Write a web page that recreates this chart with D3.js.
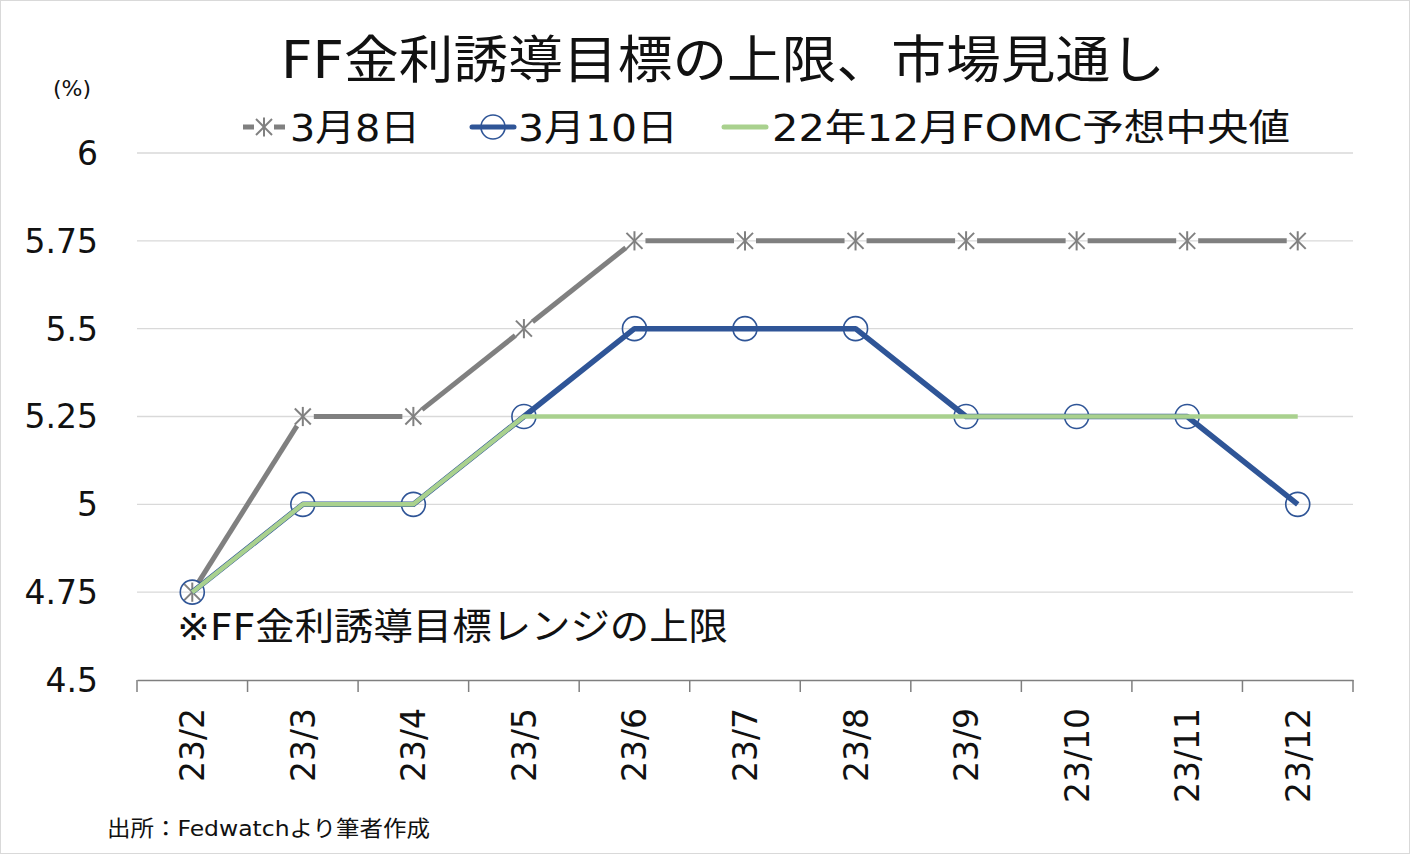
<!DOCTYPE html>
<html><head><meta charset="utf-8">
<script src="https://cdn.jsdelivr.net/npm/d3@7"></script>
<style>body{margin:0;background:#fff}svg{display:block;font-family:"DejaVu Sans","Noto Sans CJK JP",sans-serif}</style>
</head><body><svg id="c" width="1410" height="854"></svg>
<script>
const categories=["23/2","23/3","23/4","23/5","23/6","23/7","23/8","23/9","23/10","23/11","23/12"];
const mar8=[4.75,5.25,5.25,5.5,5.75,5.75,5.75,5.75,5.75,5.75,5.75];
const mar10=[4.75,5,5,5.25,5.5,5.5,5.5,5.25,5.25,5.25,5];
const fomc=[4.75,5,5,5.25,5.25,5.25,5.25,5.25,5.25,5.25,5.25];
const yTicks=[4.5,4.75,5,5.25,5.5,5.75,6];
const tickLabels=["4.5","4.75","5","5.25","5.5","5.75","6"];

const svg=d3.select("#c");
svg.append("rect").attr("x",0.5).attr("y",0.5).attr("width",1409).attr("height",853).attr("fill","#fff").attr("stroke","#d9d9d9");
const x=d3.scaleBand().domain(categories).range([137,1353]);
const y=d3.scaleLinear().domain([4.5,6]).range([680,153]);
const cx=c=>x(c)+x.bandwidth()/2;

// gridlines
svg.append("g").selectAll("line").data(yTicks.slice(1)).join("line")
 .attr("x1",137).attr("x2",1353).attr("y1",d=>y(d)).attr("y2",d=>y(d)).attr("stroke","#d9d9d9").attr("stroke-width",1.3);
// y labels
svg.append("g").selectAll("text").data(yTicks).join("text")
 .attr("x",98).attr("y",d=>y(d)).attr("dy","0.36em").attr("text-anchor","end")
 .attr("font-size",33).attr("fill","#111").text((d,i)=>tickLabels[i]);
// x axis
const xa=svg.append("g").attr("transform","translate(0,680)")
 .call(d3.axisBottom(x).tickSize(0).tickFormat(""));
xa.select(".domain").attr("stroke","#7f7f7f").attr("stroke-width",1.5);
svg.append("g").selectAll("line").data(categories.concat(["end"])).join("line")
 .attr("x1",(d,i)=>137+i*x.step()).attr("x2",(d,i)=>137+i*x.step()).attr("y1",680).attr("y2",692)
 .attr("stroke","#7f7f7f").attr("stroke-width",1.5);
svg.append("g").selectAll("text").data(categories).join("text")
 .attr("transform",d=>`translate(${cx(d)+12},708) rotate(-90)`).attr("text-anchor","end")
 .attr("font-size",33).attr("fill","#111").text(d=>d);

// gray series with gaps around markers
const pts8=categories.map((c,i)=>[cx(c),y(mar8[i])]);
const gap=11;
const segs=[];
for(let i=0;i<pts8.length-1;i++){
 const [x1,y1]=pts8[i],[x2,y2]=pts8[i+1];
 const L=Math.hypot(x2-x1,y2-y1),ux=(x2-x1)/L,uy=(y2-y1)/L;
 segs.push([x1+ux*gap,y1+uy*gap,x2-ux*gap,y2-uy*gap]);
}
svg.append("g").selectAll("line").data(segs).join("line")
 .attr("x1",d=>d[0]).attr("y1",d=>d[1]).attr("x2",d=>d[2]).attr("y2",d=>d[3])
 .attr("stroke","#808080").attr("stroke-width",5);
const star=(g,r)=>{g.append("line").attr("x1",-r).attr("x2",r).attr("y1",-r).attr("y2",r);
 g.append("line").attr("x1",-r).attr("x2",r).attr("y1",r).attr("y2",-r);
 g.append("line").attr("x1",0).attr("x2",0).attr("y1",-r*1.2).attr("y2",r*1.2);};
svg.append("g").selectAll("g").data(pts8).join("g").attr("transform",d=>`translate(${d[0]},${d[1]})`)
 .attr("stroke","#808080").attr("stroke-width",2).each(function(){star(d3.select(this),8);});

// blue
const line=d3.line().x((d,i)=>cx(categories[i])).y(d=>y(d));
svg.append("path").datum(mar10).attr("d",line).attr("fill","none").attr("stroke","#2F5597").attr("stroke-width",5.5).attr("stroke-linejoin","round");
svg.append("g").selectAll("circle").data(mar10).join("circle")
 .attr("cx",(d,i)=>cx(categories[i])).attr("cy",d=>y(d)).attr("r",12)
 .attr("fill","none").attr("stroke","#2F5597").attr("stroke-width",1.6);
// green
svg.append("path").datum(fomc).attr("d",line).attr("fill","none").attr("stroke","#A9D18E").attr("stroke-width",4.5).attr("stroke-linejoin","round");

// title
svg.append("text").attr("x",281).attr("y",78).attr("font-size",51).attr("fill","#111")
 .attr("textLength",884).attr("lengthAdjust","spacingAndGlyphs").text("FF金利誘導目標の上限、市場見通し");
svg.append("text").attr("x",72).attr("y",96).attr("text-anchor","middle").attr("font-size",22).attr("fill","#111").text("(%)");

// legend
const lg=svg.append("g").attr("font-size",37).attr("fill","#111");
lg.append("line").attr("x1",243).attr("x2",285).attr("y1",127).attr("y2",127).attr("stroke","#808080").attr("stroke-width",5);
const ls=lg.append("g").attr("transform","translate(264,127)").attr("stroke","#808080").attr("stroke-width",2);
ls.append("rect").attr("x",-10).attr("y",-10).attr("width",20).attr("height",20).attr("fill","#fff").attr("stroke","none");
star(ls,8);
lg.append("text").attr("x",290).attr("y",141).attr("textLength",130).attr("lengthAdjust","spacingAndGlyphs").text("3月8日");
lg.append("line").attr("x1",472).attr("x2",514).attr("y1",127).attr("y2",127).attr("stroke","#2F5597").attr("stroke-width",5).attr("stroke-linecap","round");
lg.append("circle").attr("cx",493).attr("cy",127).attr("r",12).attr("fill","none").attr("stroke","#2F5597").attr("stroke-width",1.6);
lg.append("text").attr("x",518).attr("y",141).attr("textLength",160).attr("lengthAdjust","spacingAndGlyphs").text("3月10日");
lg.append("line").attr("x1",724).attr("x2",766).attr("y1",127).attr("y2",127).attr("stroke","#A9D18E").attr("stroke-width",5).attr("stroke-linecap","round");
lg.append("text").attr("x",772).attr("y",141).attr("textLength",518).attr("lengthAdjust","spacingAndGlyphs").text("22年12月FOMC予想中央値");

// annotation
svg.append("text").attr("x",177).attr("y",640).attr("font-size",37).attr("fill","#111")
 .attr("textLength",551).attr("lengthAdjust","spacingAndGlyphs").text("※FF金利誘導目標レンジの上限");
svg.append("text").attr("x",107).attr("y",836).attr("font-size",22).attr("fill","#111")
 .attr("textLength",323).attr("lengthAdjust","spacingAndGlyphs").text("出所：Fedwatchより筆者作成");
</script></body></html>
